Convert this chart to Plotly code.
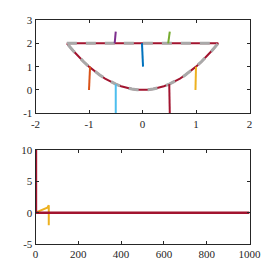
import plotly.graph_objects as go

# ---- top panel data ----
bowl_x = [-1.414, 1.414, 1.3, 1.2, 1.1, 1.0, 0.9, 0.8, 0.7, 0.6, 0.5, 0.4, 0.3, 0.2, 0.1, 0.0,
          -0.1, -0.2, -0.3, -0.4, -0.5, -0.6, -0.7, -0.8, -0.9, -1.0, -1.1, -1.2, -1.3, -1.414]
bowl_y = [2.0, 2.0, 1.69, 1.44, 1.21, 1.0, 0.81, 0.64, 0.49, 0.36, 0.25, 0.16, 0.09, 0.04, 0.01, 0.0,
          0.01, 0.04, 0.09, 0.16, 0.25, 0.36, 0.49, 0.64, 0.81, 1.0, 1.21, 1.44, 1.69, 2.0]

arm_x0 = [-0.01, -1.0, 0.99, -0.52, 0.48, -0.5, 0.5]
arm_y0 = [2.0, 0.0, 0.0, 2.0, 2.0, 0.25, 0.25]
arm_x1 = [0.01, -0.98, 1.0, -0.5, 0.51, -0.5, 0.51]
arm_y1 = [1.0, 1.0, 1.0, 2.5, 2.5, -1.0, -1.0]
arm_colors = ["#0072BD", "#D95319", "#EDB120", "#7E2F8E", "#77AC30", "#4DBEEE", "#A2142F"]

top_xticks = [-2, -1, 0, 1, 2]
top_xlabels = ["-2", "-1", "0", "1", "2"]
top_yticks = [-1, 0, 1, 2, 3]
top_ylabels = ["-1", "0", "1", "2", "3"]

# ---- bottom panel data ----
red_x = [2, 2, 1000]
red_y = [10, 0, 0]
yel_x = [0, 55, 62, 62]
yel_y = [0, 0.8, 1.2, -2.0]

bot_xticks = [0, 200, 400, 600, 800, 1000]
bot_xlabels = ["0", "200", "400", "600", "800", "1000"]
bot_yticks = [-5, 0, 5, 10]
bot_ylabels = ["-5", "0", "5", "10"]

fig = go.Figure()

# bowl: red solid + gray dashed overlay
fig.add_trace(go.Scatter(x=bowl_x, y=bowl_y, mode="lines", line=dict(color="#A2142F", width=2),
                         xaxis="x", yaxis="y", hoverinfo="skip"))
fig.add_trace(go.Scatter(x=bowl_x, y=bowl_y, mode="lines",
                         line=dict(color="#A9A9A9", width=3, dash="10px,9px"),
                         xaxis="x", yaxis="y", hoverinfo="skip"))
for i in range(len(arm_x0)):
    fig.add_trace(go.Scatter(x=[arm_x0[i], arm_x1[i]], y=[arm_y0[i], arm_y1[i]], mode="lines",
                             line=dict(color=arm_colors[i], width=2), xaxis="x", yaxis="y"))

fig.add_trace(go.Scatter(x=yel_x, y=yel_y, mode="lines", line=dict(color="#EDB120", width=2),
                         xaxis="x2", yaxis="y2"))
fig.add_trace(go.Scatter(x=red_x, y=red_y, mode="lines", line=dict(color="#A2142F", width=2.5),
                         xaxis="x2", yaxis="y2"))

W = H = 275
OFF = 8  # page body margin
font = dict(family="Liberation Serif, DejaVu Serif, serif", size=11, color="#262626")
axis_common = dict(showline=True, mirror="ticks", linecolor="#262626", linewidth=1,
                   ticks="inside", ticklen=3, tickcolor="#262626", tickwidth=1,
                   showgrid=False, zeroline=False, tickfont=font, automargin=False)

def xd(a, b):
    return [(a - OFF) / W, (b - OFF) / W]

def yd(top, bottom):
    return [1 - (bottom - OFF) / H, 1 - (top - OFF) / H]

fig.update_layout(
    width=W, height=H, margin=dict(l=0, r=0, t=0, b=0, autoexpand=False),
    paper_bgcolor="white", plot_bgcolor="white", showlegend=False,
    xaxis=dict(domain=xd(35.5, 249.5), range=[-2, 2], anchor="y",
               tickvals=top_xticks, ticktext=top_xlabels, **axis_common),
    yaxis=dict(domain=yd(20, 113.3), range=[-1, 3], anchor="x",
               tickvals=top_yticks, ticktext=top_ylabels, **axis_common),
    xaxis2=dict(domain=xd(35.5, 249.5), range=[0, 1000], anchor="y2",
                tickvals=bot_xticks, ticktext=bot_xlabels, **axis_common),
    yaxis2=dict(domain=yd(150, 244), range=[-5, 10], anchor="x2",
                tickvals=bot_yticks, ticktext=bot_ylabels, **axis_common),
)

fig.write_html("out.html")
